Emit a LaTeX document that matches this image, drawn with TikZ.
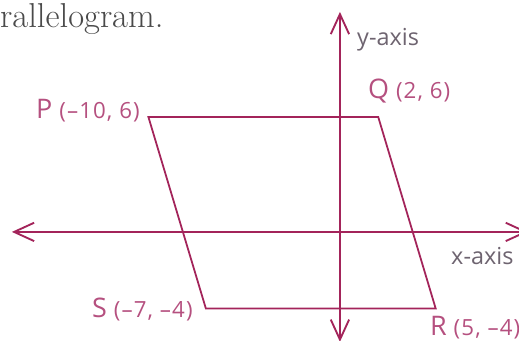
\documentclass[tikz,border=0pt]{standalone}
\usepackage{fontspec}
\setsansfont{Open Sans}
\usetikzlibrary{arrows.meta}

\definecolor{axisred}{HTML}{A3245A}
\definecolor{labelpink}{HTML}{B5507F}
\definecolor{axisgray}{HTML}{6E6470}
\definecolor{headgray}{HTML}{4A4A4A}

\newcommand{\vname}[1]{{\fontsize{23}{26}\selectfont #1}}

\begin{document}
\begin{tikzpicture}[
        x=0.5745cm, y=0.5745cm,
        >={Straight Barb[length=0.6cm, width=0.55cm]},
        axis/.style={draw=axisred, line width=1.6pt, <->},
        pgram/.style={draw=axisred, line width=1.5pt, line join=miter},
        vlabel/.style={inner sep=0, text=labelpink, font=\sffamily\fontsize{19}{22}\selectfont\addfontfeatures{LetterSpace=5}},
        alabel/.style={inner sep=0, text=axisgray, font=\sffamily\fontsize{20}{23}\selectfont},
        head/.style={inner sep=0, text=headgray, font=\fontsize{29.5}{33}\selectfont\addfontfeatures{FakeBold=0.6}}
      ]
      \useasboundingbox (-17.75,-5.69) rectangle (9.35,12.11);

      \node[head, anchor=base west] (title) at (-17.75,10.65) {rallelogram.};

      % axes
      \coordinate (xl) at (-17.13,0);
      \coordinate (xr) at (9.82,0);
      \coordinate (yt) at (0,11.49);
      \coordinate (yb) at (0,-5.74);
      \draw[axis] (xl) -- (xr);
      \draw[axis] (yt) -- (yb);
      \node[alabel, anchor=base west] (ylab) at (0.89,9.71) {y-axis};
      \node[alabel, anchor=base west] (xlab) at (5.80,-1.72) {x-axis};

      % vertices
      \coordinate (P) at (-10,6);
      \coordinate (Q) at (2,6);
      \coordinate (R) at (5,-4);
      \coordinate (S) at (-7,-4);
      \draw[pgram] (P) -- (Q) -- (R) -- (S) -- cycle;

      \node[vlabel, anchor=base east] (Plab) at (-10.44,5.90) {\vname{P} (–10, 6)};
      \node[vlabel, anchor=base west] (Qlab) at (1.46,6.95) {\vname{Q} (2, 6)};
      \node[vlabel, anchor=base east] (Slab) at (-7.68,-4.49) {\vname{S} (–7, –4)};
      \node[vlabel, anchor=base west] (Rlab) at (4.70,-5.43) {\vname{R} (5, –4)};
    \end{tikzpicture}
\end{document}
